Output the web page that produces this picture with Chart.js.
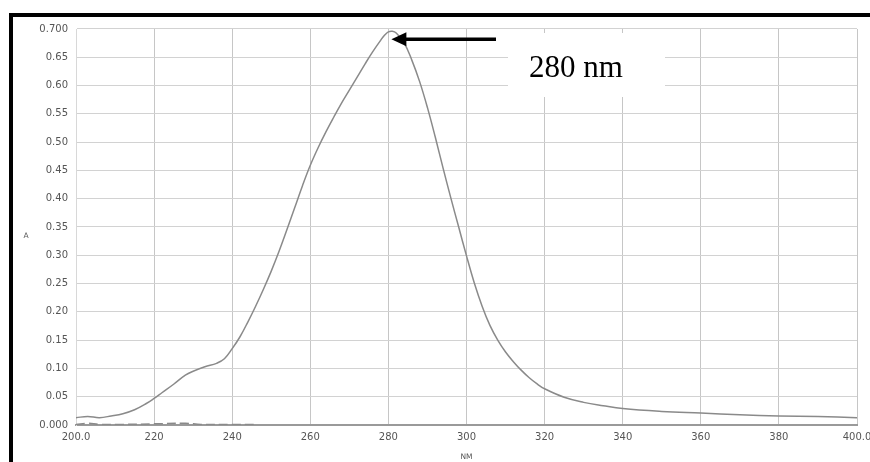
<!DOCTYPE html>
<html>
<head>
<meta charset="utf-8">
<script src="https://cdn.jsdelivr.net/npm/chart.js@4"></script>
<style>
  html, body { margin: 0; padding: 0; background: #fff; }
  #wrap { position: relative; width: 870px; height: 462px; overflow: hidden; }
  #chart { position: absolute; left: 0; top: 0; }
  .bar { position: absolute; background: #000; }
</style>
</head>
<body>
<div id="wrap">
  <canvas id="chart" width="870" height="462"></canvas>
  <div class="bar" style="left:9px; top:13px; width:861px; height:4px;"></div>
  <div class="bar" style="left:9px; top:13px; width:4px; height:449px;"></div>
</div>
<script>
// Absorbance spectrum, 200-400 nm
const wavelengths = [200, 203, 206, 209, 212, 215, 218, 220, 222, 225, 228, 230, 233, 236, 238,
  240, 242, 244, 246, 248, 250, 252, 254, 256, 258, 260, 262, 264, 266, 268, 270, 272, 274,
  276, 278, 279, 280, 281, 282, 284, 286, 288, 290, 292, 294, 296, 298, 300, 302, 304, 306,
  308, 310, 312, 314, 316, 318, 320, 325, 330, 335, 340, 350, 360, 370, 380, 390, 400];
const absorbance = [0.013, 0.015, 0.013, 0.016, 0.020, 0.027, 0.038, 0.047, 0.057, 0.072, 0.088,
  0.095, 0.103, 0.109, 0.117, 0.135, 0.156, 0.182, 0.210, 0.240, 0.272, 0.307, 0.345, 0.384,
  0.423, 0.459, 0.490, 0.518, 0.544, 0.569, 0.592, 0.615, 0.638, 0.660, 0.680, 0.689, 0.695,
  0.696, 0.693, 0.676, 0.645, 0.607, 0.561, 0.509, 0.454, 0.401, 0.350, 0.299, 0.251, 0.210,
  0.176, 0.150, 0.129, 0.112, 0.097, 0.084, 0.073, 0.064, 0.049, 0.040, 0.034, 0.029, 0.024,
  0.021, 0.018, 0.016, 0.015, 0.013];

// blank/baseline trace near zero
const baseNm = [200, 203, 206, 212, 220, 228, 232, 240, 246];
const baseAbs = [0.001, 0.003, 0.001, 0.001, 0.002, 0.003, 0.001, 0.001, 0.001];

const yTickLabels = ["0.000", "0.05", "0.10", "0.15", "0.20", "0.25", "0.30", "0.35",
  "0.40", "0.45", "0.50", "0.55", "0.60", "0.65", "0.700"];
const xTickLabels = ["200.0", "220", "240", "260", "280", "300", "320", "340", "360", "380", "400.0"];

const peakNm = 280;
const peakLabel = "280 nm";

const spectrum = wavelengths.map((x, i) => ({ x: x, y: absorbance[i] }));
const baseline = baseNm.map((x, i) => ({ x: x, y: baseAbs[i] }));

const tickFont = { family: "'DejaVu Sans', sans-serif", size: 10 };

// axis titles + peak arrow/label
const extras = {
  id: "extras",
  afterDraw(chart) {
    const ctx = chart.ctx;
    const xs = chart.scales.x, ys = chart.scales.y;
    ctx.save();
    ctx.fillStyle = "#555";
    ctx.font = "7.5px 'DejaVu Sans', sans-serif";
    ctx.textAlign = "center";
    ctx.textBaseline = "middle";
    ctx.fillText("A", 26, 236);
    ctx.fillText("NM", (xs.left + xs.right) / 2, 457);

    // white box behind the peak label
    ctx.fillStyle = "#fff";
    ctx.fillRect(508, 33, 157, 64);
    ctx.fillStyle = "#000";
    ctx.font = "31px 'Liberation Serif', 'Times New Roman', serif";
    ctx.textAlign = "left";
    ctx.textBaseline = "alphabetic";
    ctx.fillText(peakLabel, 529, 77);

    // arrow pointing at the peak
    const tipX = xs.getPixelForValue(peakNm) + 3;
    const tipY = ys.getPixelForValue(0.682);
    const tailX = 496;
    ctx.strokeStyle = "#000";
    ctx.lineWidth = 3.5;
    ctx.beginPath();
    ctx.moveTo(tailX, tipY);
    ctx.lineTo(tipX + 12, tipY);
    ctx.stroke();
    ctx.beginPath();
    ctx.moveTo(tipX, tipY);
    ctx.lineTo(tipX + 15, tipY - 7);
    ctx.lineTo(tipX + 15, tipY + 7);
    ctx.closePath();
    ctx.fill();
    ctx.restore();
  }
};

new Chart(document.getElementById("chart").getContext("2d"), {
  type: "line",
  data: {
    datasets: [
      {
        data: spectrum,
        borderColor: "#8a8a8a",
        borderWidth: 1.5,
        pointRadius: 0,
        tension: 0.4,
        fill: false
      },
      {
        data: baseline,
        borderColor: "#8a8a8a",
        borderWidth: 1.5,
        borderDash: [9, 4],
        pointRadius: 0,
        tension: 0.4,
        fill: false
      }
    ]
  },
  options: {
    responsive: false,
    animation: false,
    layout: { padding: { top: 29, right: 13, left: 0, bottom: 0 } },
    plugins: { legend: { display: false }, tooltip: { enabled: false } },
    scales: {
      x: {
        type: "linear",
        min: 200,
        max: 400,
        afterFit(scale) {
          scale.height = 37;
          scale.paddingLeft = 0;
          scale.paddingRight = 0;
        },
        afterBuildTicks(scale) {
          scale.ticks = xTickLabels.map((t, i) => ({ value: 200 + i * 20 }));
        },
        ticks: {
          color: "#555",
          font: tickFont,
          padding: 6,
          maxRotation: 0,
          autoSkip: false,
          callback: (v, i) => xTickLabels[i]
        },
        grid: { color: "#c6c6c6", lineWidth: 1, drawTicks: false },
        border: { color: "#9a9a9a", width: 2 }
      },
      y: {
        min: 0,
        max: 0.7,
        afterFit(scale) {
          scale.width = 76;
          scale.paddingTop = 0;
          scale.paddingBottom = 0;
        },
        afterBuildTicks(scale) {
          scale.ticks = yTickLabels.map((t, i) => ({ value: i * 0.05 }));
        },
        ticks: {
          color: "#555",
          font: tickFont,
          padding: 8,
          autoSkip: false,
          callback: (v, i) => yTickLabels[i]
        },
        grid: { color: "#d2d2d2", lineWidth: 1, drawTicks: false },
        border: { color: "#d8d8d8", width: 1 }
      }
    }
  },
  plugins: [extras]
});
</script>
</body>
</html>
